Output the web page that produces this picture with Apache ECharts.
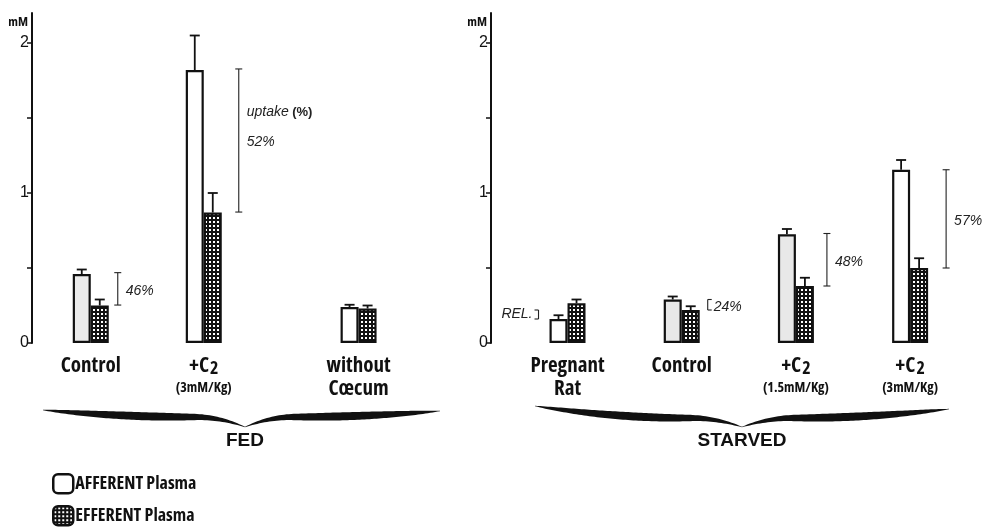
<!DOCTYPE html>
<html><head><meta charset="utf-8">
<script src="https://cdn.jsdelivr.net/npm/echarts@6/dist/echarts.min.js"></script>
<style>html,body{margin:0;padding:0;background:#fff}#c{width:985px;height:528px}</style>
</head><body><div id="c"></div>
<script>
// ---------- DATA ----------
const fedCategories = ['Control', '+C2 (3mM/Kg)', 'without Cœcum'];
const fedAfferent = [0.46, 1.82, 0.24];
const fedAfferentErr = [0.49, 2.05, 0.255];
const fedEfferent = [0.25, 0.87, 0.23];
const fedEfferentErr = [0.29, 1.00, 0.25];
const fedBracket = [[0.253, 0.469], [0.873, 1.827], null];
const fedUptake = [46, 52, null];
const fedNote = ['', 'uptake (%)', ''];

const starvedCategories = ['Pregnant Rat', 'Control', '+C2 (1.5mM/Kg)', '+C2 (3mM/Kg)'];
const starvedAfferent = [0.16, 0.29, 0.725, 1.155];
const starvedAfferentErr = [0.185, 0.31, 0.76, 1.22];
const starvedEfferent = [0.265, 0.22, 0.38, 0.50];
const starvedEfferentErr = [0.29, 0.245, 0.435, 0.565];
const starvedBracket = [[0.16, 0.22], [0.22, 0.29], [0.38, 0.73], [0.50, 1.155]];
const starvedUptake = [null, 24, 48, 57];
const starvedNote = ['REL.', '', '', ''];

const yTicks = [0, 0.5, 1, 1.5, 2];
const yLabels = [0, 1, 2];
const groupTitles = ['FED', 'STARVED'];
const seriesNames = ['AFFERENT Plasma', 'EFFERENT Plasma'];

// ---------- LAYOUT / STYLE ----------
const fedPos = [1, 2, 3.37];
const starvedPos = [1, 2, 3, 4];
const fedAfferentFill = ['#ececec', '#ffffff', '#ffffff'];
const starvedAfferentFill = ['#ffffff', '#e8e8e8', '#e8e8e8', '#ffffff'];
const fedBracketOffset = [27, 35, 0];
const starvedBracketOffset = [-29, 26, 31, 36];
const fedBracketMode = ['both', 'both', 'both'];
const starvedBracketMode = ['left', 'right', 'both', 'both'];
const BAR_W = 18;
const NARROW = "'Open Sans','Noto Sans','Liberation Sans',sans-serif";
const CW = 'bold condensed';
const SANS = "'Liberation Sans','Helvetica','Arial',sans-serif";
const INK = '#111';

// efferent checker pattern
const pc = document.createElement('canvas');
pc.width = 4; pc.height = 4;
const g = pc.getContext('2d');
g.fillStyle = '#111'; g.fillRect(0, 0, 4, 4);
g.fillStyle = '#fff'; g.fillRect(1, 1, 2, 2);
const pattern = { image: pc, repeat: 'repeat' };

function catLabel(name) {
  const m = name.match(/^\+C2 (.*)$/);
  if (m) return '{b|+C}{sub|2}\n{s|' + m[1] + '}';
  return name.split(' ').map(w => '{b|' + w + '}').join('\n');
}
const catRich = {
  b: { fontFamily: NARROW, fontWeight: CW, fontSize: 21, lineHeight: 23, color: INK },
  sub: { fontFamily: NARROW, fontWeight: CW, fontSize: 18, lineHeight: 6, verticalAlign: 'bottom', padding: [0, 0, 0, 1], color: INK },
  s: { fontFamily: NARROW, fontWeight: CW, fontSize: 14, lineHeight: 20, color: INK }
};

function yAxisCfg(gi) {
  return {
    gridIndex: gi, type: 'value', min: 0, max: 2.2,
    axisLine: { show: true, onZero: false, lineStyle: { color: INK, width: 2 } },
    axisTick: { show: true, length: 5, customValues: yTicks, lineStyle: { color: INK, width: 1.5 } },
    axisLabel: { customValues: yLabels, margin: 3, fontSize: 16, color: INK, fontFamily: SANS },
    splitLine: { show: false },
    name: 'mM', nameLocation: 'end', nameGap: -3,
    nameTextStyle: { fontFamily: NARROW, fontWeight: CW, fontSize: 13, color: INK, align: 'right', verticalAlign: 'top', padding: [0, 4, 0, 0] }
  };
}
function xAxisCfg(gi, min, max, pos, cats) {
  return {
    gridIndex: gi, type: 'value', min: min, max: max,
    axisLine: { show: false }, axisTick: { show: false }, splitLine: { show: false },
    axisLabel: {
      customValues: pos, margin: 12, interval: 0,
      formatter: v => { const i = pos.indexOf(v); return i < 0 ? '' : catLabel(cats[i]); },
      rich: catRich
    }
  };
}

function errSeries(gi, pos, vals, errs, side) {
  return {
    type: 'custom', xAxisIndex: gi, yAxisIndex: gi, z: 3, silent: true,
    data: pos.map((p, i) => [p, vals[i], errs[i], side]),
    renderItem: (params, api) => {
      const p = api.value(0);
      const a = api.coord([p, api.value(1)]), b = api.coord([p, api.value(2)]);
      const x = a[0] + api.value(3) * BAR_W / 2;
      const st = { stroke: INK, lineWidth: 1.8 };
      return { type: 'group', children: [
        { type: 'line', shape: { x1: x, y1: a[1], x2: x, y2: b[1] }, style: st },
        { type: 'line', shape: { x1: x - 5, y1: b[1], x2: x + 5, y2: b[1] }, style: st }
      ] };
    }
  };
}

function bracketSeries(gi, pos, brk, uptake, note, offs, modes) {
  const data = [];
  pos.forEach((p, i) => { if (brk[i]) data.push([p, brk[i][0], brk[i][1], i]); });
  return {
    type: 'custom', xAxisIndex: gi, yAxisIndex: gi, z: 3, silent: true, data: data,
    renderItem: (params, api) => {
      const i = api.value(3), p = api.value(0);
      const a = api.coord([p, api.value(1)]), b = api.coord([p, api.value(2)]);
      const x = a[0] + offs[i];
      const mode = modes[i];
      const st = { stroke: '#222', lineWidth: 1.1 };
      let c1 = x - 3.5, c2 = x + 3.5;
      if (mode === 'right') { c1 = x; c2 = x + 4; }
      if (mode === 'left') { c1 = x - 4; c2 = x; }
      const mid = (a[1] + b[1]) / 2;
      const kids = [
        { type: 'line', shape: { x1: x, y1: a[1], x2: x, y2: b[1] }, style: st },
        { type: 'line', shape: { x1: c1, y1: a[1], x2: c2, y2: a[1] }, style: st },
        { type: 'line', shape: { x1: c1, y1: b[1], x2: c2, y2: b[1] }, style: st }
      ];
      const txtStyle = { fontFamily: SANS, fontStyle: 'italic', fontSize: 14, fill: '#222', verticalAlign: 'middle' };
      if (uptake[i] != null) {
        kids.push({ type: 'text', style: Object.assign({ text: uptake[i] + '%', x: x + (mode === 'right' ? 6 : 8), y: mid + 2, align: 'left' }, txtStyle) });
      }
      if (note[i]) {
        if (mode === 'left') {
          kids.push({ type: 'text', style: Object.assign({ text: note[i], x: x - 6, y: mid, align: 'right' }, txtStyle) });
        } else {
          kids.push({ type: 'text', style: {
            text: '{i|uptake} {n|(%)}', x: x + 8, y: mid - 28, align: 'left', verticalAlign: 'middle',
            rich: { i: { fontFamily: SANS, fontStyle: 'italic', fontSize: 14, fill: '#222' },
                    n: { fontFamily: SANS, fontWeight: 'bold', fontSize: 13, fill: '#222' } }
          } });
        }
      }
      return { type: 'group', children: kids };
    }
  };
}

function brace(xl, yl, xr, yr, xm, yB, yTip, t) {
  const top = [], bot = [];
  const N = 80;
  function half(xe, ye, u) {
    const yc = u < 0.75 ? yB - (yB - ye) * Math.pow(1 - u / 0.75, 2)
                        : yB + (yTip - yB) * Math.pow((u - 0.75) / 0.25, 2);
    const w = Math.max(0.6, t * Math.pow(Math.sin(Math.PI * u), 0.7));
    return [xe + (xm - xe) * u, yc, w];
  }
  for (let i = 0; i <= N; i++) { const q = half(xl, yl, i / N); top.push([q[0], q[1] - q[2] / 2]); bot.push([q[0], q[1] + q[2] / 2]); }
  for (let i = N; i >= 0; i--) { const q = half(xr, yr, i / N); top.push([q[0], q[1] - q[2] / 2]); bot.push([q[0], q[1] + q[2] / 2]); }
  return { type: 'polygon', shape: { points: top.concat(bot.reverse()) }, style: { fill: INK } };
}

function legendCfg(name, top) {
  return {
    orient: 'vertical', left: 52, top: top, padding: 0, itemWidth: 20, itemHeight: 19,
    icon: 'roundRect', selectedMode: false, data: [name],
    itemStyle: { borderColor: INK, borderWidth: 2.5 },
    textStyle: { fontFamily: NARROW, fontWeight: CW, fontSize: 18, color: INK, padding: [0, 0, 0, -3] }
  };
}

const chart = echarts.init(document.getElementById('c'), null, { renderer: 'canvas' });
chart.setOption({
  animation: false,
  backgroundColor: '#fff',
  grid: [
    { left: 32, top: 13, width: 380, height: 330 },
    { left: 491, top: 13, width: 480, height: 330 }
  ],
  xAxis: [
    xAxisCfg(0, 0.48, 0.48 + 380 / 113, fedPos, fedCategories),
    xAxisCfg(1, 0.33, 0.33 + 480 / 114.2, starvedPos, starvedCategories)
  ],
  yAxis: [yAxisCfg(0), yAxisCfg(1)],
  legend: [legendCfg(seriesNames[0], 473), legendCfg(seriesNames[1], 505)],
  series: [
    { type: 'bar', name: seriesNames[0], xAxisIndex: 0, yAxisIndex: 0, barWidth: BAR_W, barGap: '0%',
      itemStyle: { color: '#fff', borderColor: INK, borderWidth: 2.2 },
      data: fedPos.map((p, i) => ({ value: [p, fedAfferent[i]], itemStyle: { color: fedAfferentFill[i] } })) },
    { type: 'bar', name: seriesNames[1], xAxisIndex: 0, yAxisIndex: 0, barWidth: BAR_W, barGap: '0%',
      itemStyle: { color: pattern, borderColor: INK, borderWidth: 2.2 },
      data: fedPos.map((p, i) => [p, fedEfferent[i]]) },
    { type: 'bar', name: seriesNames[0], xAxisIndex: 1, yAxisIndex: 1, barWidth: BAR_W, barGap: '0%',
      itemStyle: { color: '#fff', borderColor: INK, borderWidth: 2.2 },
      data: starvedPos.map((p, i) => ({ value: [p, starvedAfferent[i]], itemStyle: { color: starvedAfferentFill[i] } })) },
    { type: 'bar', name: seriesNames[1], xAxisIndex: 1, yAxisIndex: 1, barWidth: BAR_W, barGap: '0%',
      itemStyle: { color: pattern, borderColor: INK, borderWidth: 2.2 },
      data: starvedPos.map((p, i) => [p, starvedEfferent[i]]) },
    errSeries(0, fedPos, fedAfferent, fedAfferentErr, -1),
    errSeries(0, fedPos, fedEfferent, fedEfferentErr, 1),
    errSeries(1, starvedPos, starvedAfferent, starvedAfferentErr, -1),
    errSeries(1, starvedPos, starvedEfferent, starvedEfferentErr, 1),
    bracketSeries(0, fedPos, fedBracket, fedUptake, fedNote, fedBracketOffset, fedBracketMode),
    bracketSeries(1, starvedPos, starvedBracket, starvedUptake, starvedNote, starvedBracketOffset, starvedBracketMode)
  ],
  graphic: [
    brace(43, 410, 440, 411, 245, 417, 427, 8),
    brace(535, 406, 949, 409, 742, 418, 427, 8),
    { type: 'text', style: { text: groupTitles[0], x: 245, y: 441, align: 'center', verticalAlign: 'middle', fontFamily: SANS, fontWeight: 'bold', fontSize: 19, fill: INK } },
    { type: 'text', style: { text: groupTitles[1], x: 742, y: 441, align: 'center', verticalAlign: 'middle', fontFamily: SANS, fontWeight: 'bold', fontSize: 19, fill: INK } }
  ]
});
</script></body></html>
